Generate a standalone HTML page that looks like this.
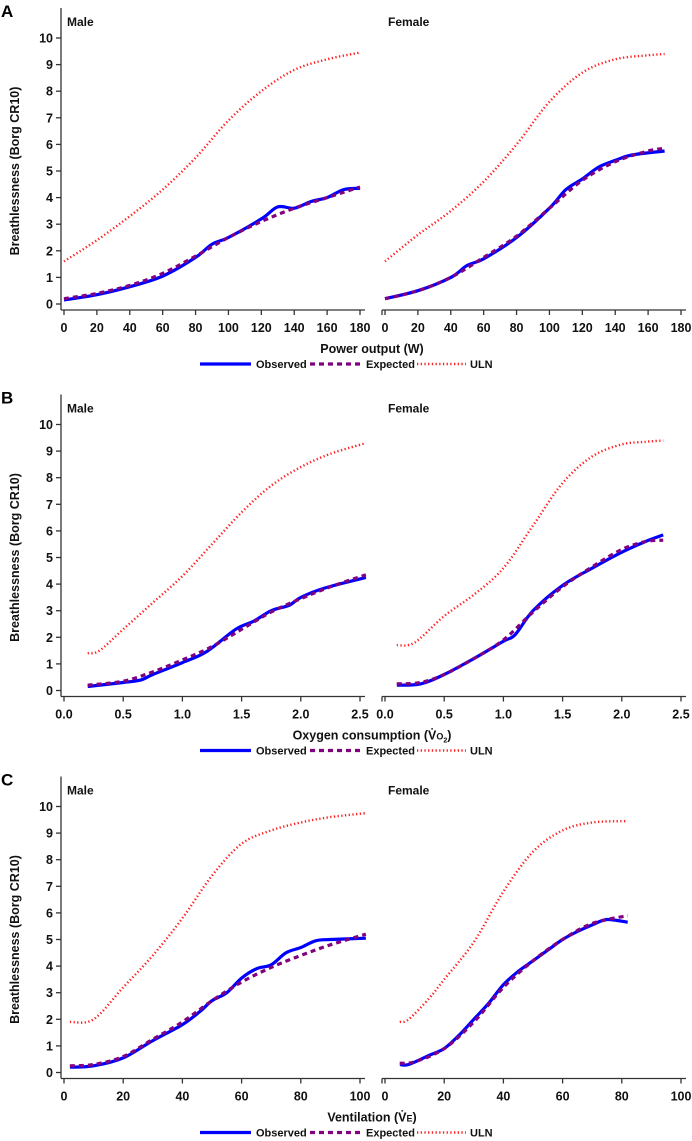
<!DOCTYPE html>
<html><head><meta charset="utf-8"><style>
html,body{margin:0;padding:0;background:#fff;}
svg{display:block;font-family:"Liberation Sans",Arial,sans-serif;}
</style></head><body>
<svg id="fig" width="692" height="1141" viewBox="0 0 692 1141" xmlns="http://www.w3.org/2000/svg"></svg>
<script>
// ---- Panel A: Power output (W) ----
const aTicks = [0,20,40,60,80,100,120,140,160,180];
const aTickLabels = ["0","20","40","60","80","100","120","140","160","180"];
const aMaleX   = [0,20,40,60,80,90,100,120,130,140,150,160,170,180];
const aMaleObs = [0.15,0.35,0.65,1.05,1.75,2.25,2.5,3.2,3.65,3.6,3.85,4.0,4.3,4.35];
const aMaleExpX = [0,20,40,60,80,100,120,140,160,180];
const aMaleExp  = [0.2,0.4,0.7,1.15,1.8,2.5,3.1,3.6,4.0,4.4];
const aMaleUlnX = [0,20,40,60,80,100,120,140,160,180];
const aMaleUln  = [1.6,2.4,3.3,4.3,5.5,6.9,8.0,8.8,9.2,9.45];
const aFemX   = [0,20,40,50,60,80,100,110,120,130,140,150,170];
const aFemObs = [0.2,0.5,1.0,1.45,1.7,2.5,3.6,4.3,4.7,5.15,5.4,5.6,5.75];
const aFemExpX = [0,20,40,60,80,100,120,140,160,170];
const aFemExp  = [0.2,0.5,1.0,1.75,2.55,3.6,4.65,5.35,5.75,5.85];
const aFemUlnX = [0,20,40,60,80,100,120,140,160,170];
const aFemUln  = [1.6,2.6,3.5,4.6,6.0,7.6,8.7,9.2,9.35,9.4];
// ---- Panel B: Oxygen consumption ----
const bTicks = [0,0.5,1,1.5,2,2.5];
const bTickLabels = ["0.0","0.5","1.0","1.5","2.0","2.5"];
const bMaleX   = [0.2,0.5,0.65,0.75,1.0,1.2,1.45,1.6,1.75,1.9,2.0,2.2,2.55];
const bMaleObs = [0.15,0.3,0.4,0.6,1.05,1.45,2.3,2.6,3.0,3.2,3.5,3.85,4.25];
const bMaleExpX = [0.2,0.5,0.75,1.0,1.25,1.5,1.75,2.0,2.25,2.55];
const bMaleExp  = [0.2,0.35,0.7,1.15,1.65,2.3,2.95,3.45,3.9,4.35];
const bMaleUlnX = [0.2,0.3,0.5,0.75,1.0,1.25,1.5,1.75,2.0,2.25,2.55];
const bMaleUln  = [1.4,1.5,2.3,3.3,4.3,5.5,6.7,7.7,8.4,8.9,9.3];
const bFemX   = [0.1,0.3,0.5,0.75,1.0,1.1,1.25,1.5,1.75,2.0,2.2,2.35];
const bFemObs = [0.2,0.25,0.6,1.2,1.85,2.1,3.0,3.95,4.6,5.2,5.6,5.85];
const bFemExpX = [0.1,0.3,0.5,0.75,1.0,1.25,1.5,1.75,2.0,2.2,2.35];
const bFemExp  = [0.25,0.3,0.6,1.2,1.9,2.95,3.9,4.65,5.3,5.6,5.65];
const bFemUlnX = [0.1,0.25,0.5,0.75,1.0,1.25,1.5,1.75,2.0,2.2,2.35];
const bFemUln  = [1.7,1.8,2.8,3.6,4.6,6.2,7.8,8.8,9.25,9.35,9.4];
// ---- Panel C: Ventilation ----
const cTicks = [0,20,40,60,80,100];
const cTickLabels = ["0","20","40","60","80","100"];
const cMaleX   = [2,10,20,30,40,46,50,55,60,65,70,75,80,85,90,102];
const cMaleObs = [0.2,0.25,0.55,1.2,1.8,2.3,2.7,3.0,3.55,3.9,4.05,4.5,4.7,4.95,5.0,5.05];
const cMaleExpX = [2,10,20,30,40,50,60,70,80,90,102];
const cMaleExp  = [0.25,0.3,0.6,1.25,1.9,2.7,3.4,3.95,4.4,4.8,5.2];
const cMaleUlnX = [2,10,20,30,40,50,60,70,80,90,102];
const cMaleUln  = [1.9,2.0,3.2,4.4,5.8,7.4,8.6,9.1,9.4,9.6,9.75];
const cFemX   = [5,8,15,20,25,30,35,40,45,50,55,60,65,70,75,82];
const cFemObs = [0.3,0.3,0.65,0.9,1.4,2.0,2.6,3.3,3.8,4.2,4.6,5.0,5.3,5.55,5.75,5.65];
const cFemExpX = [5,10,20,30,40,50,60,70,82];
const cFemExp  = [0.35,0.4,0.9,1.9,3.2,4.2,5.0,5.6,5.9];
const cFemUlnX = [5,8,15,20,30,40,50,60,70,82];
const cFemUln  = [1.9,2.0,2.8,3.5,4.9,6.8,8.3,9.1,9.4,9.45];

const NS = "http://www.w3.org/2000/svg";
const svg = document.getElementById('fig');
function mk(tag, attrs, parent){
  const e = document.createElementNS(NS, tag);
  for (const k in attrs) e.setAttribute(k, attrs[k]);
  (parent||svg).appendChild(e);
  return e;
}
function smooth(pts){
  let d = "M" + pts[0][0].toFixed(1) + "," + pts[0][1].toFixed(1);
  for (let i=0;i<pts.length-1;i++){
    const p0=pts[Math.max(0,i-1)], p1=pts[i], p2=pts[i+1], p3=pts[Math.min(pts.length-1,i+2)];
    const c1x=p1[0]+(p2[0]-p0[0])/6, c1y=p1[1]+(p2[1]-p0[1])/6;
    const c2x=p2[0]-(p3[0]-p1[0])/6, c2y=p2[1]-(p3[1]-p1[1])/6;
    d += " C"+c1x.toFixed(1)+","+c1y.toFixed(1)+" "+c2x.toFixed(1)+","+c2y.toFixed(1)+" "+p2[0].toFixed(1)+","+p2[1].toFixed(1);
  }
  return d;
}
const STY = {
  uln:{stroke:"#ff2020","stroke-width":2.4,"stroke-dasharray":"1.3 2.4",fill:"none"},
  exp:{stroke:"#800080","stroke-width":3.2,"stroke-dasharray":"5 4",fill:"none"},
  obs:{stroke:"#0000ff","stroke-width":3.2,fill:"none","stroke-linejoin":"round"}
};
function subplot(g, x0px, x1px, xmax, y0, ticks, labels, label, drawY, series){
  const xs = v => x0px + (v/xmax)*(x1px-x0px);
  const ys = v => y0 - v*26.6;
  const ax = mk('g',{},g);
  
  
  const axL = x0px-3;
  mk('line',{x1:axL,y1:y0+6,x2:x1px+5,y2:y0+6,stroke:"#333","stroke-width":1.3},ax);
  ticks.forEach((t,i)=>{
    mk('line',{x1:xs(t),y1:y0+6,x2:xs(t),y2:y0+11,stroke:"#333","stroke-width":1.3},ax);
    const tx = mk('text',{x:xs(t),y:y0+28,"text-anchor":"middle","font-size":12.5,"font-weight":"bold",fill:"#111"},ax);
    tx.textContent = labels[i];
  });
  if (drawY){
    mk('line',{x1:axL,y1:y0-296,x2:axL,y2:y0+6,stroke:"#333","stroke-width":1.3},ax);
    for (let v=0; v<=10; v++){
      mk('line',{x1:axL-5,y1:ys(v),x2:axL,y2:ys(v),stroke:"#333","stroke-width":1.3},ax);
      const ty = mk('text',{x:axL-8,y:ys(v)+4.5,"text-anchor":"end","font-size":12.5,"font-weight":"bold",fill:"#111"},ax);
      ty.textContent = String(v);
    }
  } else {
    mk('line',{x1:axL,y1:y0+6,x2:axL,y2:y0+11,stroke:"#333","stroke-width":1.3},ax);
  }
  const lab = mk('text',{x:x0px+3,y:y0-278,"font-size":12,"font-weight":"bold",fill:"#111"},g);
  lab.textContent = label;
  
  
  series.forEach(s=>{
    const pts = s.x.map((v,i)=>[xs(v), ys(s.y[i])]);
    const p = mk('path', Object.assign({d:smooth(pts)}, STY[s.k]), g);
    
    
  });
}
function panel(letter, y0, ticks, labels, xmax, xTitle, mData, fData){
  const g = mk('g',{});
  
  
  const L = mk('text',{x:1,y:y0-287,"font-size":17,"font-weight":"bold",fill:"#000"},g);
  L.textContent = letter;
  
  
  const yt = mk('text',{x:0,y:0,"font-size":12.5,"font-weight":"bold",fill:"#111","text-anchor":"middle",transform:"translate(19,"+(y0-133)+") rotate(-90)"},g);
  yt.textContent = "Breathlessness (Borg CR10)";
  
  
  subplot(g, 64, 360, xmax, y0, ticks, labels, "Male", true, mData);
  subplot(g, 385, 681, xmax, y0, ticks, labels, "Female", false, fData);
  const xt = mk('text',{x:372,y:y0+49,"font-size":12.5,"font-weight":"bold",fill:"#111","text-anchor":"middle"},g);
  xt.innerHTML = xTitle;
  
  
  const lg = mk('g',{},g);
  
  
  const ly = y0+60;
  const items = [["obs",200,251,256,"Observed"],["exp",310,362,366,"Expected"],["uln",417,466,470,"ULN"]];
  items.forEach(it=>{
    const e = mk('g',{},lg);
    
    
    mk('line',Object.assign({x1:it[1],y1:ly,x2:it[2],y2:ly},STY[it[0]]),e);
    const t = mk('text',{x:it[3],y:ly+4,"font-size":11,"font-weight":"bold",fill:"#111"},e);
    t.textContent = it[4];
  });
}
panel("A", 304, aTicks, aTickLabels, 180, "Power output (W)",
  [{k:"uln",x:aMaleUlnX,y:aMaleUln},{k:"obs",x:aMaleX,y:aMaleObs},{k:"exp",x:aMaleExpX,y:aMaleExp}],
  [{k:"uln",x:aFemUlnX,y:aFemUln},{k:"obs",x:aFemX,y:aFemObs},{k:"exp",x:aFemExpX,y:aFemExp}]);
panel("B", 690.5, bTicks, bTickLabels, 2.5, 'Oxygen consumption (V̇<tspan font-size="9">O</tspan><tspan font-size="7" dy="3">2</tspan><tspan dy="-3">)</tspan>',
  [{k:"uln",x:bMaleUlnX,y:bMaleUln},{k:"obs",x:bMaleX,y:bMaleObs},{k:"exp",x:bMaleExpX,y:bMaleExp}],
  [{k:"uln",x:bFemUlnX,y:bFemUln},{k:"obs",x:bFemX,y:bFemObs},{k:"exp",x:bFemExpX,y:bFemExp}]);
panel("C", 1072.5, cTicks, cTickLabels, 100, 'Ventilation (V̇<tspan font-size="9">E</tspan>)',
  [{k:"uln",x:cMaleUlnX,y:cMaleUln},{k:"obs",x:cMaleX,y:cMaleObs},{k:"exp",x:cMaleExpX,y:cMaleExp}],
  [{k:"uln",x:cFemUlnX,y:cFemUln},{k:"obs",x:cFemX,y:cFemObs},{k:"exp",x:cFemExpX,y:cFemExp}]);
</script>
</body></html>
